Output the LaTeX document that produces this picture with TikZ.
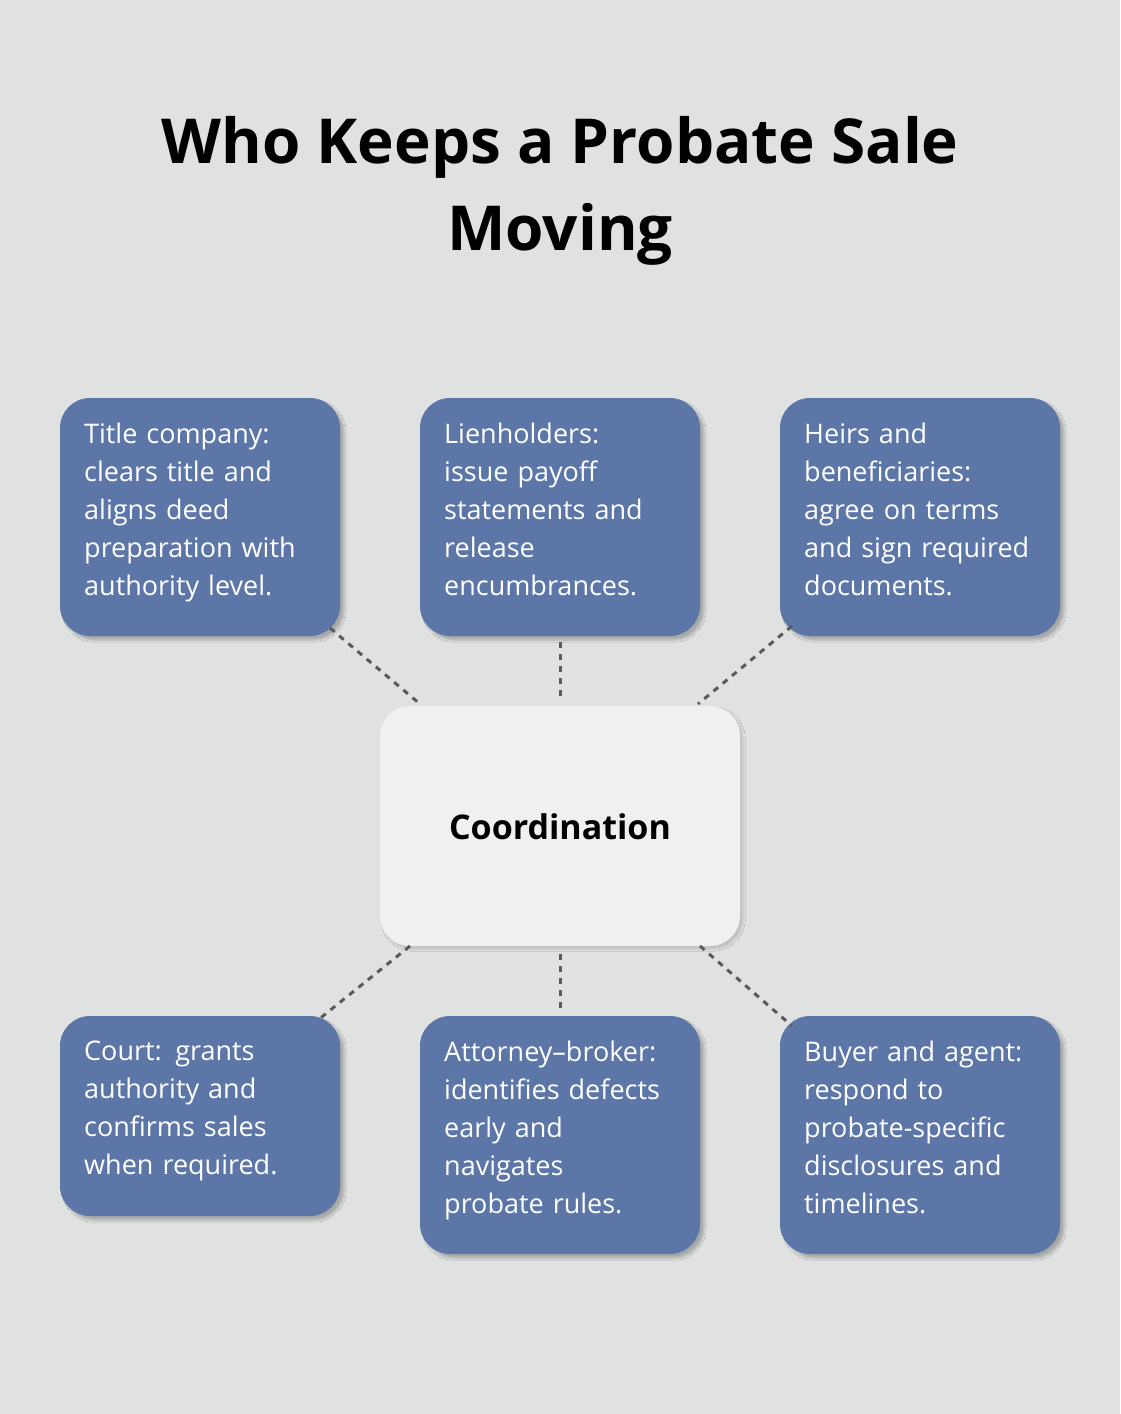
\documentclass[tikz,border=0pt]{standalone}
\usepackage{fontspec}
\setmainfont{Open Sans}
\usetikzlibrary{shadows.blur}
\definecolor{bg}{HTML}{E0E2E1}
\definecolor{blu}{HTML}{5D76A8}
\definecolor{ctr}{HTML}{EFF0F2}
\definecolor{dsh}{HTML}{5A5A5A}
\tikzset{
 card/.style={fill=blu,rounded corners=30pt,blur shadow={shadow xshift=4pt,shadow yshift=-4pt,shadow blur steps=8,shadow opacity=25}},
 cardtext/.style={anchor=north west,text=white,text width=260pt,align=left,inner sep=0pt,font=\fontsize{27}{38}\selectfont},
 link/.style={draw=dsh,line width=3pt,dash pattern=on 6pt off 6pt}
}
\begin{document}
\begin{tikzpicture}[x=1pt,y=-1pt]
\fill[bg] (0,0) rectangle (1120,1414);
\useasboundingbox (0,0) rectangle (1120,1414);
\node[font=\fontsize{62}{87}\selectfont\bfseries,align=center] (title) at (560,191) {Who Keeps a Probate Sale\\Moving};
% center
\path[fill=ctr,rounded corners=30pt,blur shadow={shadow xshift=3pt,shadow yshift=-3pt,shadow blur steps=8,shadow opacity=15}] (380,706) rectangle (740,946);
\node[font=\fontsize{34}{40}\selectfont\bfseries] (c) at (560,827) {Coordination};
% cards
\path[card] (60,398) rectangle (340,636);
\path[card] (420,398) rectangle (700,636);
\path[card] (780,398) rectangle (1060,636);
\path[card] (60,1016) rectangle (340,1216);
\path[card] (420,1016) rectangle (700,1254);
\path[card] (780,1016) rectangle (1060,1254);
\node[cardtext] (t1) at (84,423) {Title company:\\clears title and\\aligns deed\\preparation with\\authority level.};
\node[cardtext] (t2) at (444,423) {Lienholders:\\issue payoff\\statements and\\release\\encumbrances.};
\node[cardtext] (t3) at (804,423) {Heirs and\\beneficiaries:\\agree on terms\\and sign required\\documents.};
\node[cardtext] (b1) at (84,1041) {Court: grants\\authority and\\confirms sales\\when required.};
\node[cardtext] (b2) at (444,1041) {Attorney–broker:\\identifies defects\\early and\\navigates\\probate rules.};
\node[cardtext] (b3) at (804,1041) {Buyer and agent:\\respond to\\probate-specific\\disclosures and\\timelines.};
% connector ends
\coordinate (a1) at (330,628); \coordinate (a2) at (420,704);
\coordinate (a3) at (560,642); \coordinate (a4) at (560,698);
\coordinate (a5) at (792,626); \coordinate (a6) at (698,704);
\coordinate (d1) at (410,946); \coordinate (d2) at (318,1020);
\coordinate (d3) at (560,954); \coordinate (d4) at (560,1010);
\coordinate (d5) at (700,946); \coordinate (d6) at (792,1026);
\draw[link] (a1) -- (a2);
\draw[link] (a3) -- (a4);
\draw[link] (a5) -- (a6);
\draw[link] (d1) -- (d2);
\draw[link] (d3) -- (d4);
\draw[link] (d5) -- (d6);
\end{tikzpicture}
\end{document}
